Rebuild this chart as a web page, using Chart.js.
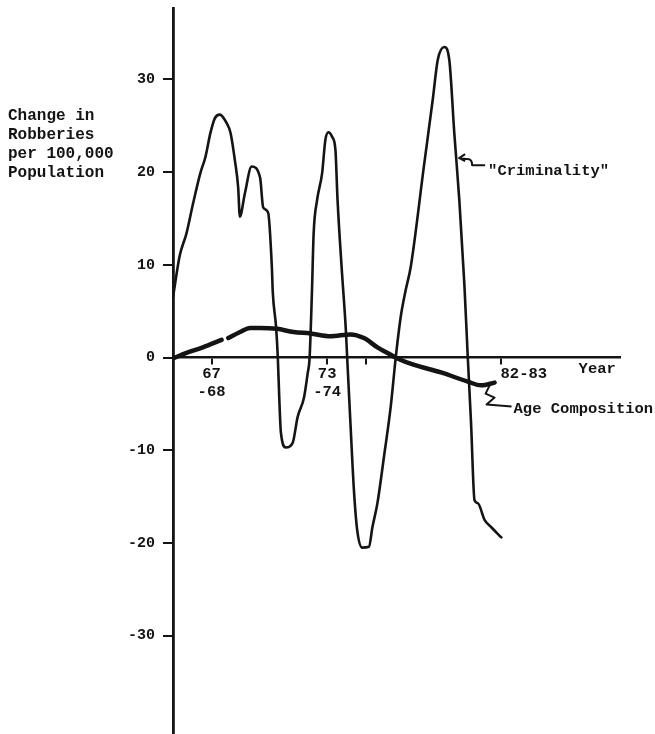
<!DOCTYPE html>
<html>
<head>
<meta charset="utf-8">
<script src="https://cdn.jsdelivr.net/npm/chart.js@4.4.1/dist/chart.umd.min.js"></script>
<style>
  html, body { margin: 0; padding: 0; background: #fff; }
  #chart { display: block; }
</style>
</head>
<body>
<canvas id="chart" width="655" height="734"></canvas>
<script>
"use strict";
const INK = '#141414';
const FONT = '"Liberation Mono", "DejaVu Sans Mono", monospace';

// "Criminality" curve (x = first year of the pair, y = change per 100,000)
const crimYears = [65.0, 65.35, 65.7, 66.05, 66.42, 66.68, 66.94, 67.17, 67.43, 67.78,
    67.99, 68.21, 68.38, 68.47, 68.73, 69.08, 69.52, 69.68, 69.94, 70.13,
    70.18, 70.35, 70.44, 70.52, 70.6, 70.86, 71.21, 71.47, 71.8, 71.99,
    72.09, 72.21, 72.3, 72.48, 72.74, 72.91, 73.07, 73.26, 73.43, 73.54,
    73.75, 73.97, 74.04, 74.21, 74.39, 74.56, 74.82, 75.17, 75.35, 75.61,
    75.95, 76.3, 76.56, 76.82, 77.08, 77.34, 78.02, 78.48, 78.74, 79.08,
    79.34, 79.6, 79.86, 80.12, 80.3, 80.47, 80.65, 80.82, 81.17, 81.52, 82.04];
const crimValues = [6.5, 11.0, 13.4, 16.7, 19.9, 21.6, 24.2, 25.8, 26.2, 25.3,
    24.2, 21.3, 18.4, 15.2, 17.7, 20.6, 19.4, 16.2, 15.6, 9.8,
    7.0, 3.3, 0, -4.6, -8.1, -9.7, -9.2, -6.4, -4.3, -1.7,
    0, 7.0, 13.4, 17.0, 19.9, 23.5, 24.3, 23.8, 22.4, 17.0,
    9.8, 3.0, 0, -7.1, -14.3, -18.6, -20.5, -20.4, -18.3, -15.7,
    -10.7, -5.3, 0, 4.4, 7.3, 9.8, 20.6, 27.8, 32.1, 33.5,
    32.1, 24.2, 17.0, 8.0, 0, -7.1, -15.4, -15.7, -17.5, -18.3, -19.4];

// "Age Composition" curve (null = break in the drawn line)
const ageYears = [65.09, 65.7, 66.55, 67.52, 67.7, 67.87, 68.48, 69.0, 69.52, 70.39,
    71.26, 72.13, 73.17, 74.21, 74.91, 75.61, 76.3, 76.65, 77.52, 78.91,
    80.3, 81.0, 81.69];
const ageValues = [0, 0.5, 1.1, 1.9, null, 2.1, 2.75, 3.2, 3.2, 3.1,
    2.75, 2.6, 2.3, 2.5, 2.1, 1.1, 0.3, -0.1, -0.8, -1.6,
    -2.6, -3.0, -2.7];

const yTicks = [-30, -20, -10, 0, 10, 20, 30];
const xTicks = [67, 73, 75, 82];
const xTickLabels = [['67', '-68'], ['73', '-74'], '', '82-83'];
const axisTitle = ['Change in', 'Robberies', 'per 100,000', 'Population'];

function zip(xs, ys) {
    return xs.map((x, i) => ({ x: x, y: ys[i] }));
}

// textes ajoutés à la main sur le graphique (titre d'axe, flèches)
const notes = {
    id: 'notes',
    afterDraw(chart) {
        const { ctx, scales: { x, y } } = chart;
        ctx.save();
        ctx.fillStyle = INK;
        ctx.strokeStyle = INK;
        ctx.textBaseline = 'alphabetic';
        ctx.textAlign = 'left';
        ctx.font = `bold 16px ${FONT}`;
        axisTitle.forEach((t, i) => ctx.fillText(t, 8, 120 + i * 19));

        ctx.font = `bold 15.5px ${FONT}`;
        ctx.fillText('Year', x.getPixelForValue(86.05), y.getPixelForValue(0) + 15);

        // "Criminality" arrow
        let px = x.getPixelForValue(79.85), py = y.getPixelForValue(21.5);
        ctx.lineWidth = 2;
        ctx.lineJoin = 'round';
        ctx.beginPath();
        ctx.moveTo(px + 6, py - 4);
        ctx.lineTo(px, py);
        ctx.lineTo(px + 6, py + 3);
        ctx.moveTo(px, py);
        ctx.lineTo(px + 10, py + 1);
        ctx.quadraticCurveTo(px + 13, py + 2, px + 13, py + 7);
        ctx.lineTo(px + 26, py + 7);
        ctx.stroke();
        ctx.fillText('"Criminality"', px + 29, py + 17);

        // "Age Composition" leader
        px = x.getPixelForValue(81.69);
        py = y.getPixelForValue(-2.7);
        ctx.beginPath();
        ctx.moveTo(px - 4, py + 1);
        ctx.lineTo(px - 9, py + 11);
        ctx.lineTo(px, py + 15);
        ctx.lineTo(px - 8, py + 22);
        ctx.lineTo(px + 17, py + 24);
        ctx.stroke();
        ctx.fillText('Age Composition', px + 19, py + 30);
        ctx.restore();
    }
};

new Chart(document.getElementById('chart'), {
    type: 'line',
    data: {
        datasets: [{
                label: 'Criminality',
                data: zip(crimYears, crimValues),
                borderColor: INK,
                borderWidth: 2.6,
                pointRadius: 0,
                cubicInterpolationMode: 'monotone',
                borderCapStyle: 'round',
                fill: false
            }, {
                label: 'Age Composition',
                data: zip(ageYears, ageValues),
                borderColor: INK,
                borderWidth: 4.5,
                pointRadius: 0,
                cubicInterpolationMode: 'monotone',
                borderCapStyle: 'round',
                fill: false
            }]
    },
    options: {
        responsive: false,
        animation: false,
        devicePixelRatio: 1,
        layout: { padding: { top: 8, right: 35, bottom: 0, left: 0 } },
        plugins: {
            legend: { display: false },
            tooltip: { enabled: false }
        },
        scales: {
            x: {
                type: 'linear',
                min: 65,
                max: 88.2,
                position: { y: 0 },
                afterFit: s => { s.height = 0; s.paddingLeft = 0; s.paddingRight = 0; },
                afterBuildTicks: s => { s.ticks = xTicks.map(v => ({ value: v })); },
                ticks: {
                    autoSkip: false,
                    maxRotation: 0,
                    padding: 1,
                    color: INK,
                    font: { family: FONT, size: 15.5, weight: 'bold', lineHeight: 1.2 },
                    callback: v => {
                        const i = xTicks.indexOf(v);
                        if (i < 0) return '';
                        // le "82-83" est tapé à droite de son repère
                        return v === 82 ? '     ' + xTickLabels[i] : xTickLabels[i];
                    }
                },
                grid: { drawOnChartArea: false, drawTicks: true, tickLength: 6, color: INK, lineWidth: 2 },
                border: { display: true, color: INK, width: 2.5 }
            },
            y: {
                type: 'linear',
                min: -40.6,
                max: 37.7,
                position: 'left',
                afterFit: s => { s.width = 173; s.paddingTop = 0; s.paddingBottom = 0; },
                afterBuildTicks: s => { s.ticks = yTicks.map(v => ({ value: v })); },
                ticks: {
                    padding: 8,
                    color: INK,
                    font: { family: FONT, size: 15, weight: 'bold' }
                },
                grid: { drawOnChartArea: false, drawTicks: true, tickLength: 10, color: INK, lineWidth: 2 },
                border: { display: true, color: INK, width: 2.8 }
            }
        }
    },
    plugins: [notes]
});
</script>
</body>
</html>
